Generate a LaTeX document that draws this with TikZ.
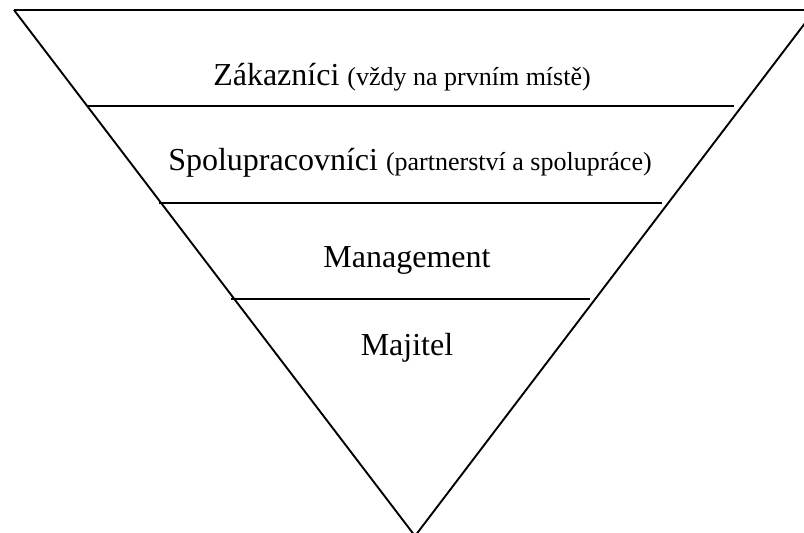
\documentclass[tikz,border=0pt]{standalone}
\usepackage{fontspec}
\setmainfont{Liberation Serif}
\tikzset{
  big/.style={font=\fontsize{32}{36}\selectfont},
  label/.style={anchor=base, inner sep=0pt}
}
\newcommand{\smalltxt}[1]{{\fontsize{26}{30}\selectfont #1}}
\begin{document}
\begin{tikzpicture}[x=1pt, y=-1pt, line width=1.9pt]
\useasboundingbox (0,0) rectangle (804,533);
\clip (0,0) rectangle (804,533);

%Triangle corners
\node [] (0) at (14, 10) {};
\node [] (1) at (815, 10) {};
\node [] (2) at (415, 536) {};

%Dividing lines
\node [] (3) at (87, 106) {};
\node [] (4) at (734, 106) {};
\node [] (5) at (159, 203) {};
\node [] (6) at (662, 203) {};
\node [] (7) at (231, 299) {};
\node [] (8) at (590, 299) {};

\draw [] (0.center) to (1.center);
\draw [] (1.center) to (2.center);
\draw [] (2.center) to (0.center);
\draw [] (3.center) to (4.center);
\draw [] (5.center) to (6.center);
\draw [] (7.center) to (8.center);

%Labels
\node [label, big] (9) at (402, 85) {Z\'akazn\'ici \smalltxt{(v\v{z}dy na prvn\'im m\'ist\v{e})}};
\node [label, big] (10) at (410, 170) {Spolupracovn\'ici \smalltxt{(partnerstv\'i a spolupr\'ace)}};
\node [label, big] (11) at (407, 267) {Management};
\node [label, big] (12) at (407, 355) {Majitel};
\end{tikzpicture}
\end{document}
